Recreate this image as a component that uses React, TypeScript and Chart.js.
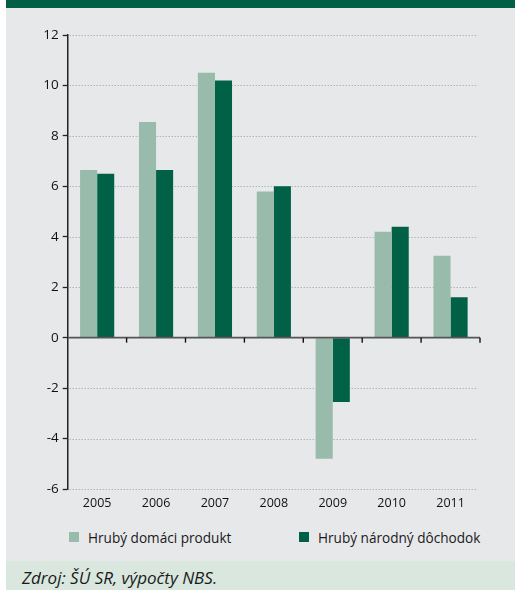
import React, { useEffect, useRef } from "react";
import { Chart, registerables } from "chart.js";

Chart.register(...registerables);

const categories = ["2005", "2006", "2007", "2008", "2009", "2010", "2011"];
const hdpValues = [6.65, 8.55, 10.5, 5.8, -4.8, 4.2, 3.25];
const hndValues = [6.5, 6.65, 10.2, 6.0, -2.55, 4.4, 1.6];
const seriesNames = ["Hrubý domáci produkt", "Hrubý národný dôchodok"];
const yTicks = [-6, -4, -2, 0, 2, 4, 6, 8, 10, 12];
const sourceText = "Zdroj: ŠÚ SR, výpočty NBS.";

const LIGHT = "#98bbab";
const DARK = "#006146";
const FONT = "'Open Sans', 'Noto Sans', sans-serif";

const decorPlugin = {
  id: "decor",
  beforeDatasetsDraw(chart: any) {
    const { ctx, chartArea, scales } = chart;
    const y = scales.y;
    ctx.save();
    ctx.strokeStyle = "#9c9c9c";
    ctx.lineWidth = 1;
    ctx.setLineDash([1, 2]);
    yTicks.forEach((v) => {
      if (v === 0) return;
      const py = Math.round(y.getPixelForValue(v)) + 0.5;
      ctx.beginPath();
      ctx.moveTo(chartArea.left + 2, py);
      ctx.lineTo(chartArea.right - 2, py);
      ctx.stroke();
    });
    ctx.restore();
  },
  afterDatasetsDraw(chart: any) {
    const { ctx, chartArea, scales } = chart;
    const y = scales.y;
    const x = scales.x;
    const py0 = y.getPixelForValue(0);
    ctx.save();
    ctx.strokeStyle = "#555";
    ctx.lineWidth = 1.8;
    ctx.beginPath();
    ctx.moveTo(chartArea.left, py0);
    ctx.lineTo(chartArea.right, py0);
    ctx.stroke();
    ctx.strokeStyle = "#111";
    ctx.lineWidth = 1.4;
    for (let i = 1; i <= categories.length; i++) {
      const px = x.getPixelForValue(i - 0.5);
      ctx.beginPath();
      ctx.moveTo(px, py0);
      ctx.lineTo(px, py0 + 5);
      ctx.stroke();
    }
    ctx.restore();
  },
};

function ChartCanvas() {
  const ref = useRef<HTMLCanvasElement | null>(null);
  useEffect(() => {
    if (!ref.current) return;
    const chart = new Chart(ref.current, {
      type: "bar",
      data: {
        labels: categories,
        datasets: [
          { label: seriesNames[0], data: hdpValues, backgroundColor: LIGHT, borderWidth: 0 },
          { label: seriesNames[1], data: hndValues, backgroundColor: DARK, borderWidth: 0 },
        ],
      },
      options: {
        animation: false,
        responsive: false,
        maintainAspectRatio: false,
        layout: { padding: { top: 27, right: 35, bottom: 0, left: 0 } },
        plugins: { legend: { display: false }, tooltip: { enabled: false } },
        datasets: { bar: { categoryPercentage: 0.58, barPercentage: 1 } },
        scales: {
          x: {
            grid: { display: false, drawTicks: false },
            border: { display: false },
            ticks: { color: "#111", font: { family: FONT, size: 12.5 }, padding: 7, maxRotation: 0 },
            afterFit: (s: any) => {
              s.height = 31;
            },
          },
          y: {
            min: -6,
            max: 12,
            ticks: {
              stepSize: 2,
              color: "#111",
              font: { family: FONT, size: 13.5 },
              padding: 4,
            },
            grid: { drawOnChartArea: false, drawTicks: true, tickLength: 5, color: "#222", tickWidth: 1.3 },
            border: { display: true, color: "#222", width: 1.5 },
            afterFit: (s: any) => {
              s.width = 61.7;
            },
          },
        },
      },
      plugins: [decorPlugin],
    } as any);
    return () => chart.destroy();
  }, []);
  return (
    <canvas
      ref={ref}
      width={509}
      height={512}
      style={{ position: "absolute", left: 6, top: 8, width: 509, height: 512 }}
    />
  );
}

export default function App() {
  useEffect(() => {
    document.body.style.margin = "0";
  }, []);
  const legendItem = (color: string, label: string, boxLeft: number) => (
    <div
      style={{
        position: "absolute",
        left: boxLeft,
        top: 528,
        height: 18,
        display: "flex",
        alignItems: "center",
        fontFamily: FONT,
        fontSize: 13.6,
        color: "#1a1a1a",
        whiteSpace: "nowrap",
      }}
    >
      <span style={{ display: "inline-block", width: 10, height: 10, background: color, marginRight: 9 }} />
      <span>{label}</span>
    </div>
  );
  return (
    <div style={{ position: "relative", width: 515, height: 590, background: "#fff", overflow: "hidden" }}>
      <div style={{ position: "absolute", left: 6, top: 0, width: 509, height: 8, background: "#005f45" }} />
      <div style={{ position: "absolute", left: 6, top: 8, width: 509, height: 553, background: "#e7e8ea" }} />
      <div style={{ position: "absolute", left: 6, top: 561, width: 509, height: 29, background: "#d9e7df" }} />
      <ChartCanvas />
      {legendItem(LIGHT, seriesNames[0], 69)}
      {legendItem(DARK, seriesNames[1], 299)}
      <div
        style={{
          position: "absolute",
          left: 22,
          top: 567,
          fontFamily: FONT,
          fontStyle: "italic",
          fontSize: 17,
          color: "#1a1a1a",
          whiteSpace: "nowrap",
          lineHeight: "22px",
        }}
      >
        {sourceText}
      </div>
    </div>
  );
}
